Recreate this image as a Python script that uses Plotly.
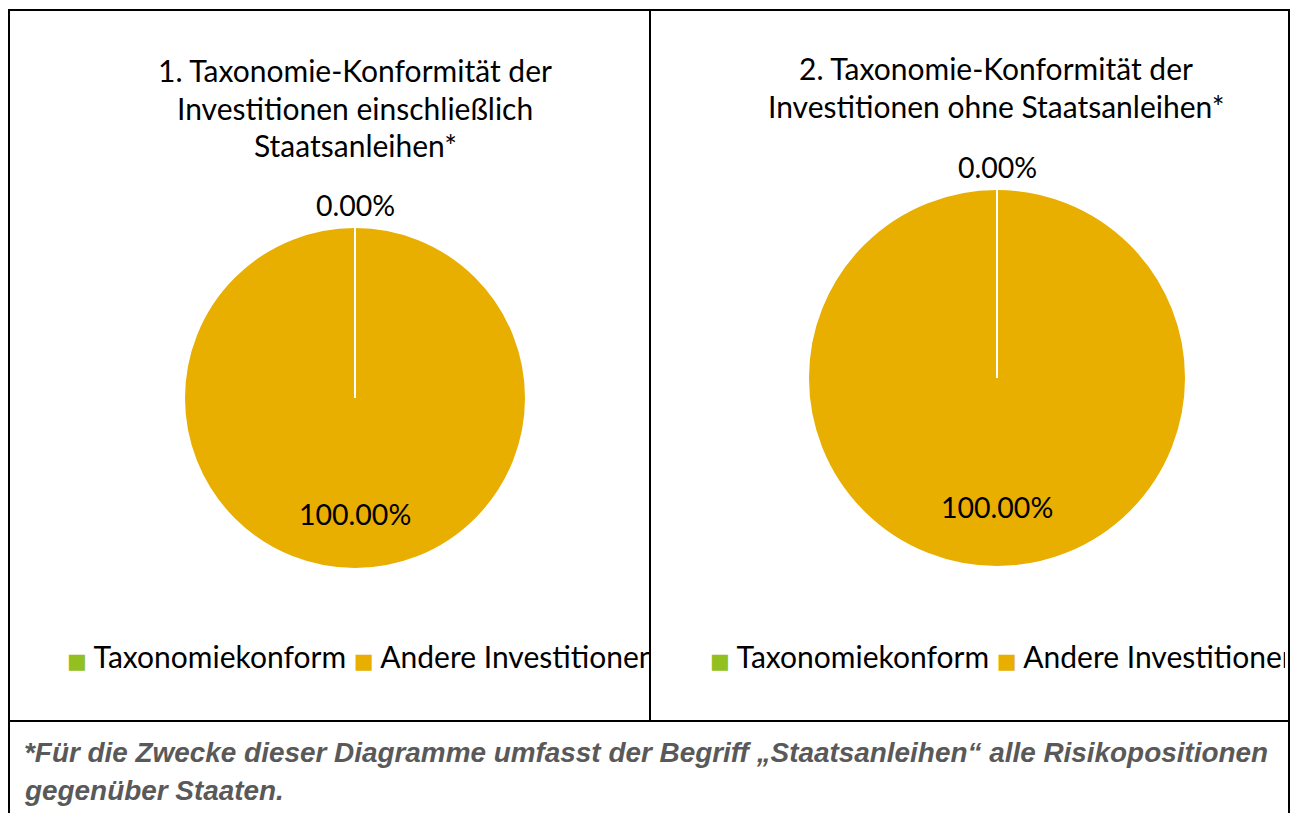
import plotly.graph_objects as go

W, H = 1282, 805  # page body has an 8px margin; the figure fits inside it
OFF = 8

labels = ["Taxonomiekonform", "Andere Investitionen"]
colors = ["#92C01F", "#E8AE00"]
chart1_values = [0.0, 100.0]
chart2_values = [0.0, 100.0]
chart1_title = ["1. Taxonomie-Konformität der", "Investitionen einschließlich", "Staatsanleihen*"]
chart2_title = ["2. Taxonomie-Konformität der", "Investitionen ohne Staatsanleihen*"]
footnote = ["*Für die Zwecke dieser Diagramme umfasst der Begriff „Staatsanleihen“ alle Risikopositionen",
            "gegenüber Staaten."]

FONT = "Lato"
FS = 30
LFS = 28.5


def px(x):
    return (x - OFF) / W


def py(y):
    return 1 - (y - OFF) / H


def pie(values, cx, cy, r):
    return go.Pie(
        labels=labels, values=values, sort=False, direction="clockwise", rotation=0,
        marker=dict(colors=colors, line=dict(color="white", width=2)),
        textinfo="none",
        domain=dict(x=[px(cx - r), px(cx + r)], y=[py(cy + r), py(cy - r)]),
        showlegend=False, hoverinfo="label+percent",
    )


charts = [
    dict(values=chart1_values, cx=355, cy=398, r=171, title=chart1_title, tx=355, ty=70,
         leg=(66, 649)),
    dict(values=chart2_values, cx=997, cy=378, r=189, title=chart2_title, tx=996, ty=68,
         leg=(709, 1284)),
]

fig = go.Figure()
ann = []
shapes = []


def legend_text():
    parts = []
    for lab, col in zip(labels, colors):
        parts.append(f'<span style="color:{col};font-size:21px;font-family:DejaVu Sans">■</span> {lab}')
    return " ".join(parts)


for c in charts:
    fig.add_trace(pie(c["values"], c["cx"], c["cy"], c["r"]))
    for i, line in enumerate(c["title"]):
        ann.append(dict(x=px(c["tx"]), y=py(c["ty"] + i * 37.5), text=line, showarrow=False,
                        xanchor="center", yanchor="middle",
                        font=dict(family=FONT, size=FS, color="black")))
    total = sum(c["values"])
    p0 = c["values"][0] / total
    p1 = c["values"][1] / total
    ann.append(dict(x=px(c["cx"]), y=py(c["cy"] - c["r"] - 22), text=f"{p0:.2%}", showarrow=False,
                    xanchor="center", yanchor="middle", font=dict(family=FONT, size=LFS, color="black")))
    ann.append(dict(x=px(c["cx"]), y=py(c["cy"] + c["r"] * 0.68), text=f"{p1:.2%}", showarrow=False,
                    xanchor="center", yanchor="middle", font=dict(family=FONT, size=LFS, color="black")))
    shapes.append(dict(type="line", xref="paper", yref="paper",
                       x0=px(c["cx"]), x1=px(c["cx"]), y0=py(c["cy"]), y1=py(c["cy"] - c["r"]),
                       line=dict(color="white", width=2), layer="above"))
    x0, x1 = c["leg"]
    ann.append(dict(x=px(x0), y=py(656), text=legend_text(), showarrow=False, xanchor="left",
                    yanchor="middle", align="left", width=x1 - x0, borderpad=0,
                    font=dict(family=FONT, size=FS, color="black")))

for i, line in enumerate(footnote):
    ann.append(dict(x=px(22), y=py(752 + i * 38), text=f"<b><i>{line}</i></b>", showarrow=False,
                    xanchor="left", yanchor="middle", align="left",
                    font=dict(family="Liberation Sans", size=27.9, color="#595959")))

borders = [
    dict(x0=9, x1=9, y0=10, y1=830),
    dict(x0=8, x1=1290, y0=10, y1=10),
    dict(x0=1289, x1=1289, y0=10, y1=830),
    dict(x0=650, x1=650, y0=10, y1=721),
    dict(x0=8, x1=1290, y0=721, y1=721),
]
for b in borders:
    shapes.append(dict(type="line", xref="paper", yref="paper",
                       x0=px(b["x0"]), x1=px(b["x1"]), y0=py(b["y0"]), y1=py(b["y1"]),
                       line=dict(color="black", width=2), layer="above"))

fig.update_layout(
    width=W, height=H, margin=dict(l=0, r=0, t=0, b=0),
    paper_bgcolor="white", plot_bgcolor="white",
    annotations=ann, shapes=shapes, showlegend=False,
)

fig.write_html("out.html")
